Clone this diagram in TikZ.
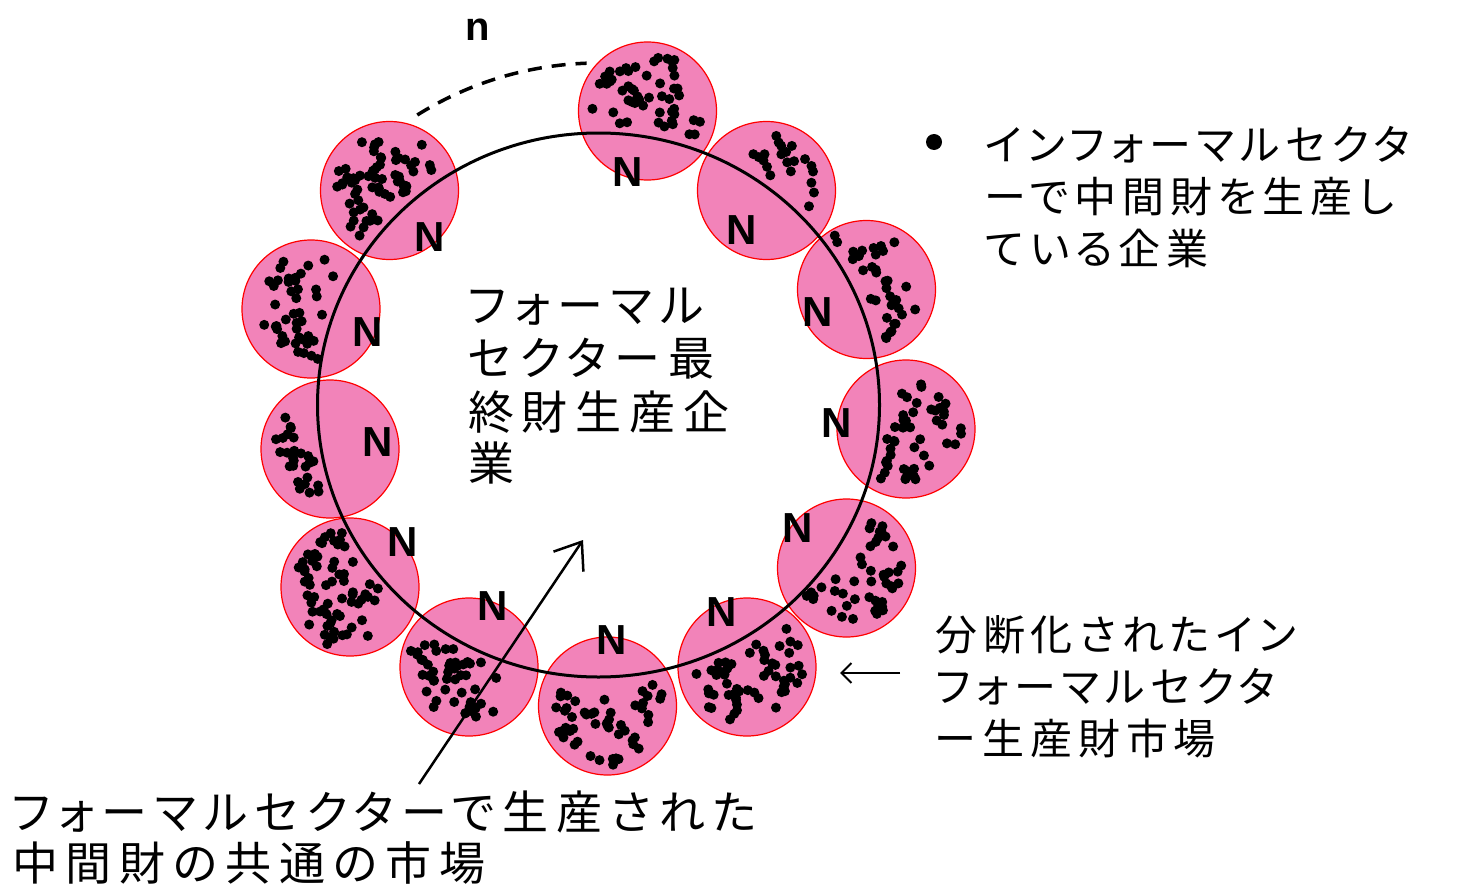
\documentclass[tikz,border=0pt]{standalone}
\usepackage{fontspec}
\setmainfont{Liberation Sans}
\newfontfamily\jpM[LetterSpace=17,RawFeature=+palt]{Noto Sans CJK JP}
\newfontfamily\jpR[LetterSpace=14,RawFeature=+palt]{Noto Sans CJK JP}
\usetikzlibrary{arrows.meta}
\definecolor{pinkfill}{RGB}{242,131,185}
\tikzset{
  pinkc/.style={circle,fill=pinkfill,draw=red,line width=1.2pt,minimum size=138pt,inner sep=0pt},
  nlabel/.style={inner sep=0pt,font=\bfseries\fontsize{42}{42}\selectfont},
  jpmid/.style={anchor=base west,inner sep=0pt,font=\jpM\fontsize{46}{52}\selectfont},
  jpright/.style={anchor=base west,inner sep=0pt,font=\jpR\fontsize{42}{52}\selectfont},
  bigring/.style={line width=3pt},
  dashring/.style={line width=3.5pt,dash pattern=on 14pt off 10pt},
}
\begin{document}
\begin{tikzpicture}[x=1pt,y=-1pt]
\useasboundingbox (0,0) rectangle (1479,888);
% small circles
\node[pinkc] (c1) at (647.5,111) {};
\node[pinkc] (c2) at (766.5,190.5) {};
\node[pinkc] (c3) at (866.5,289.5) {};
\node[pinkc] (c4) at (906,429) {};
\node[pinkc] (c5) at (846.5,568) {};
\node[pinkc] (c6) at (747,667) {};
\node[pinkc] (c7) at (607.5,706) {};
\node[pinkc] (c8) at (469,667) {};
\node[pinkc] (c9) at (350,587) {};
\node[pinkc] (c10) at (330,449) {};
\node[pinkc] (c11) at (311,309) {};
\node[pinkc] (c12) at (389.5,190.5) {};
% dots
\pgfmathsetseed{7}
\foreach \cx/\cy in {647.5/111, 766.5/190.5, 866.5/289.5, 906/429, 846.5/568, 747/667, 607.5/706, 469/667, 350/587, 330/449, 311/309, 389.5/190.5}{
  \foreach \k in {1,...,62}{
    \pgfmathsetmacro\ang{360*rnd}
    \pgfmathsetmacro\rad{56*sqrt(rnd)}
    \pgfmathsetmacro\px{\cx+\rad*cos(\ang)}
    \pgfmathsetmacro\py{\cy+\rad*sin(\ang)}
    \pgfmathsetmacro\q{((\px-598.5)/281)^2+((\py-405)/272)^2}
    \pgfmathsetmacro\bang{360*rnd}
    \pgfmathsetmacro\two{rnd}
    \ifdim\q pt>1.07pt
      \fill (\px,\py) circle[radius=5pt];
      \ifdim\two pt<0.25pt
        \fill ({\px+7*cos(\bang)},{\py+7*sin(\bang)}) circle[radius=5pt];
      \fi
    \fi
  }
}
% big ring
\draw[bigring] (598.5,405) ellipse[x radius=281pt, y radius=272pt];
% dashed arc
\draw[dashring] plot[domain=-122:-92,samples=40] ({598.5+342*cos(\x)},{405+342*sin(\x)});
\node[nlabel,font=\bfseries\fontsize{40}{40}\selectfont] (nsmall) at (478,30) {n};
% N labels
\node[nlabel] (n1) at (628,172) {N};
\node[nlabel] (n2) at (742,230) {N};
\node[nlabel] (n3) at (818,312) {N};
\node[nlabel] (n4) at (837,423) {N};
\node[nlabel] (n5) at (798,528) {N};
\node[nlabel] (n6) at (722,612) {N};
\node[nlabel] (n7) at (612,640) {N};
\node[nlabel] (n8) at (493,606) {N};
\node[nlabel] (n9) at (403,542) {N};
\node[nlabel] (n10) at (378,442) {N};
\node[nlabel] (n11) at (368,332) {N};
\node[nlabel] (n12) at (430,237) {N};
% middle text
\node[jpmid] (m1) at (468,322) {フォーマル};
\node[jpmid] (m2) at (468,375) {セクター最};
\node[jpmid] (m3) at (468,429) {終財生産企};
\node[jpmid] (m4) at (468,480) {業};
% top right
\node[circle,fill=black,inner sep=0pt,minimum size=16pt] (bullet) at (934,142) {};
\node[jpright] (r1) at (985,160) {インフォーマルセクタ};
\node[jpright] (r2) at (985,212) {ーで中間財を生産し};
\node[jpright] (r3) at (985,264) {ている企業};
% bottom right
\node[jpright] (b1) at (935,650) {分断化されたイン};
\node[jpright] (b2) at (935,702) {フォーマルセクタ};
\node[jpright] (b3) at (935,754) {ー生産財市場};
\coordinate (sa1) at (900,673);
\coordinate (sa2) at (840,673);
\draw[line width=2pt,-{Straight Barb[length=10pt,width=20pt]}] (sa1) -- (sa2);
% bottom left
\node[jpmid] (l1) at (12,829) {フォーマルセクターで生産された};
\node[jpmid] (l2) at (12,880) {中間財の共通の市場};
\coordinate (astart) at (419,784);
\coordinate (aend) at (583,540);
\draw[line width=2.5pt,-{Straight Barb[length=24pt,width=36pt]}] (astart) -- (aend);
\end{tikzpicture}
\end{document}
